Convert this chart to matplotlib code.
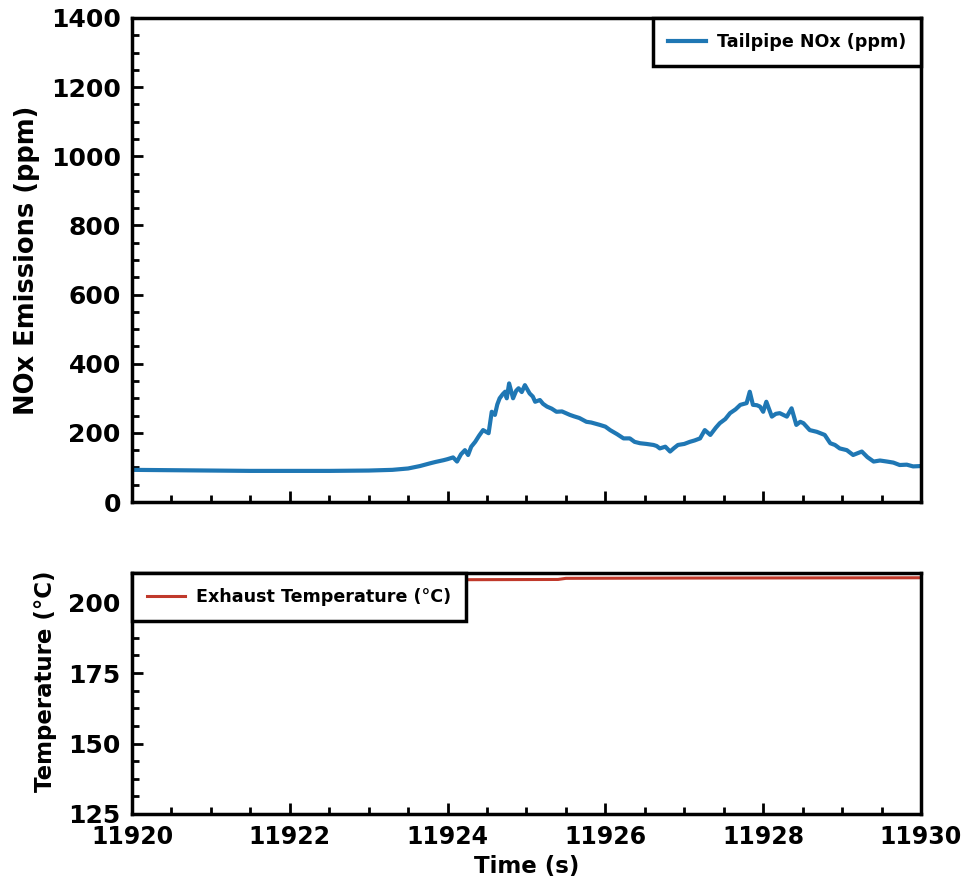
import matplotlib
matplotlib.use("Agg")
import matplotlib.pyplot as plt
from matplotlib.ticker import AutoMinorLocator, MultipleLocator

# NOx trace (time in s, ppm)
time_nox = [11920.0, 11920.5, 11921.0, 11921.5, 11922.0, 11922.5, 11923.0, 11923.3,
            11923.5, 11923.65, 11923.78, 11923.85, 11923.95, 11924.0, 11924.07, 11924.12,
            11924.17, 11924.22, 11924.26, 11924.3, 11924.35, 11924.4, 11924.45, 11924.52,
            11924.56, 11924.6, 11924.63, 11924.66, 11924.7, 11924.73, 11924.75, 11924.78,
            11924.83, 11924.87, 11924.9, 11924.94, 11924.98, 11925.04, 11925.08, 11925.11,
            11925.17, 11925.21, 11925.26, 11925.32, 11925.38, 11925.45, 11925.55, 11925.6,
            11925.67, 11925.76, 11925.82, 11925.93, 11926.0, 11926.06, 11926.15, 11926.23,
            11926.31, 11926.37, 11926.44, 11926.52, 11926.61, 11926.65, 11926.69, 11926.76,
            11926.82, 11926.87, 11926.92, 11927.0, 11927.07, 11927.13, 11927.2, 11927.26,
            11927.33, 11927.4, 11927.45, 11927.52, 11927.58, 11927.65, 11927.71, 11927.79,
            11927.83, 11927.87, 11927.92, 11927.96, 11928.0, 11928.04, 11928.11, 11928.16,
            11928.21, 11928.3, 11928.36, 11928.42, 11928.47, 11928.51, 11928.59, 11928.68,
            11928.78, 11928.85, 11928.91, 11928.97, 11929.06, 11929.14, 11929.25, 11929.32,
            11929.4, 11929.48, 11929.57, 11929.65, 11929.73, 11929.82, 11929.9, 11930.0]
nox_ppm = [93, 92, 91, 90, 90, 90, 91, 93,
           97, 104, 112, 116, 121, 124, 129, 117,
           138, 150, 136, 160, 174, 192, 208, 199,
           261, 252, 282, 300, 312, 319, 300, 343,
           300, 322, 329, 318, 338, 314, 305, 290,
           295, 284, 276, 270, 261, 262, 252, 248,
           243, 232, 230, 223, 218, 208, 196, 184,
           184, 174, 170, 168, 165, 162, 155, 160,
           146, 156, 165, 168, 174, 178, 184, 208,
           194, 215, 228, 240, 257, 268, 281, 286,
           319, 281, 280, 276, 261, 290, 247, 255,
           257, 247, 271, 223, 232, 228, 208, 203,
           194, 170, 165, 155, 150, 136, 146, 130,
           117, 120, 117, 114, 107, 108, 103, 104]

# Exhaust temperature (time in s, degC)
time_temp = [11920.0, 11922.0, 11924.0, 11925.4, 11925.5, 11927.0, 11930.0]
temp_c = [208.0, 208.1, 208.1, 208.2, 208.6, 208.7, 208.8]

plt.rcParams["font.family"] = "DejaVu Sans"
plt.rcParams["font.weight"] = "bold"
plt.rcParams["axes.labelweight"] = "bold"

fig = plt.figure(figsize=(9.66, 8.86), dpi=100)
ax1 = fig.add_axes([0.1366, 0.4334, 0.8168, 0.5463])
ax2 = fig.add_axes([0.1366, 0.0813, 0.8168, 0.2720], sharex=ax1)

ax1.plot(time_nox, nox_ppm, color="#1f77b4", lw=3, label="Tailpipe NOx (ppm)")
ax1.set_ylim(0, 1400)
ax1.set_ylabel("NOx Emissions (ppm)", fontsize=18.5, labelpad=8)
ax1.yaxis.set_major_locator(MultipleLocator(200))
leg1 = ax1.legend(loc="upper right", borderaxespad=0, fancybox=False,
                  framealpha=1, edgecolor="black", borderpad=0.85,
                  handlelength=2.2, handletextpad=0.6,
                  prop={"size": 12.6, "weight": "bold"})
leg1.get_frame().set_linewidth(2.5)
plt.setp(ax1.get_xticklabels(), visible=False)

ax2.plot(time_temp, temp_c, color="#c0392b", lw=2.2, label="Exhaust Temperature (°C)")
ax2.set_ylim(125, 210.5)
ax2.set_xlim(11920, 11930)
ax2.set_ylabel("Temperature (°C)", fontsize=16.5, labelpad=8)
ax2.yaxis.label.set_y(0.55)
ax2.set_xlabel("Time (s)", fontsize=16.5, labelpad=4)
ax2.yaxis.set_major_locator(MultipleLocator(25))
ax2.xaxis.set_major_locator(MultipleLocator(2))
leg2 = ax2.legend(loc="upper left", borderaxespad=0, fancybox=False,
                  framealpha=1, edgecolor="black", borderpad=0.85,
                  handlelength=2.2, handletextpad=0.6,
                  prop={"size": 12.6, "weight": "bold"})
leg2.get_frame().set_linewidth(2.5)

for ax in (ax1, ax2):
    ax.xaxis.set_minor_locator(AutoMinorLocator(4))
    ax.yaxis.set_minor_locator(AutoMinorLocator(4))
    ax.tick_params(which="both", direction="in", width=2, pad=8)
    ax.tick_params(axis="y", labelsize=18)
    ax.tick_params(axis="x", labelsize=17)
    ax.tick_params(which="major", length=8)
    ax.tick_params(which="minor", length=5)
    for s in ax.spines.values():
        s.set_linewidth(2.5)
    for lab in ax.get_xticklabels() + ax.get_yticklabels():
        lab.set_fontweight("bold")

ax2.set_xticklabels([f"{int(t)}" for t in ax2.get_xticks()], fontsize=17, fontweight="bold")

fig.savefig("out.png", dpi=100)
plt.close(fig)
